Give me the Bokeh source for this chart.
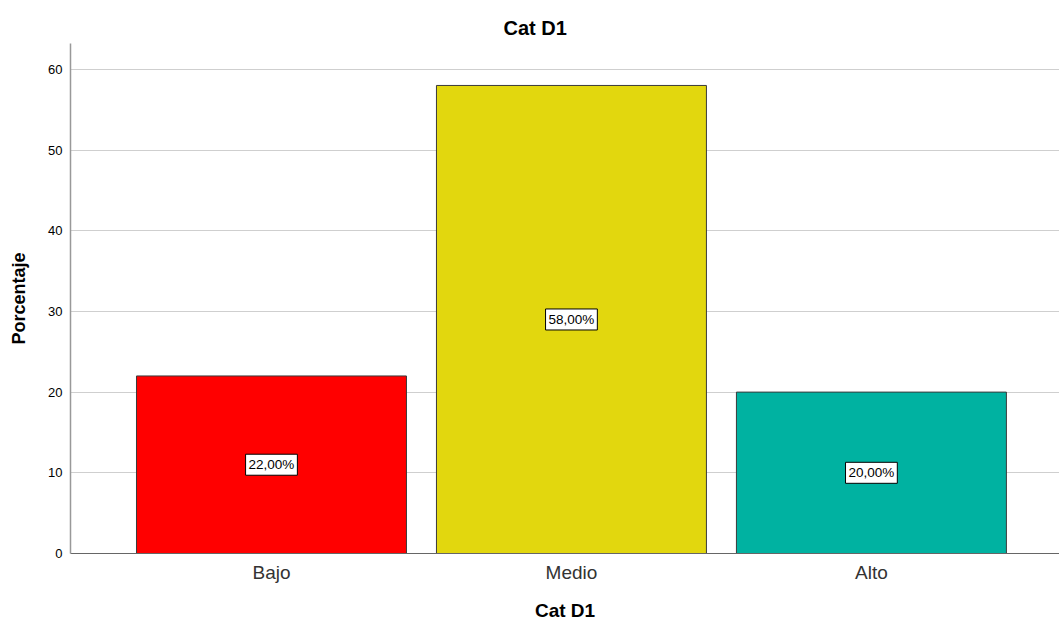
from bokeh.plotting import figure
from bokeh.models import ColumnDataSource, Range1d, FixedTicker
from bokeh.core.properties import value
from bokeh.embed import file_html
from bokeh.resources import INLINE

# Category data
categories = ["Bajo", "Medio", "Alto"]
percentages = [22.0, 58.0, 20.0]
bar_colors = ["#ff0000", "#e2d70e", "#00b2a1"]
y_ticks = [0, 10, 20, 30, 40, 50, 60]

positions = list(range(len(categories)))
labels = [f"{v:.2f}".replace(".", ",") + "%" for v in percentages]

source = ColumnDataSource(data=dict(
    x=positions,
    top=percentages,
    mid=[v / 2 for v in percentages],
    color=bar_colors,
    label=labels,
))

FONT = "Liberation Sans"

p = figure(
    width=1059, height=623,
    x_range=Range1d(-0.67, 2.627),
    y_range=Range1d(0, 63.2),
    output_backend="svg",
    toolbar_location=None,
    min_border_left=70, min_border_right=0,
    min_border_top=43, min_border_bottom=70,
    title="Cat D1",
)

p.vbar(x="x", top="top", width=0.9, bottom=0, source=source,
       fill_color="color", line_color="#3a3a3a", line_width=1)

# Boxed value labels in the middle of each bar
p.text(x="x", y="mid", text="label", source=source,
       text_align="center", text_baseline="middle",
       text_font=value(FONT), text_font_size="13.5px", text_color="#000000",
       background_fill_color="white", border_line_color="black",
       border_line_width=1, padding=3)

# Title
p.title.align = "left"
p.title.offset = 433
p.title.text_font = FONT
p.title.text_font_size = "20px"
p.title.text_font_style = "bold"
p.title.text_color = "#000000"
p.title.standoff = 9

# Axes
p.xaxis.ticker = FixedTicker(ticks=positions)
p.xaxis.major_label_overrides = {i: c for i, c in zip(positions, categories)}
p.xaxis.axis_label = "Cat D1"
p.xaxis.axis_label_text_font = FONT
p.xaxis.axis_label_text_font_size = "19px"
p.xaxis.axis_label_text_font_style = "bold"
p.xaxis.axis_label_text_color = "#000000"
p.xaxis.axis_label_standoff = 14
p.xaxis.major_label_text_font = FONT
p.xaxis.major_label_text_font_size = "19px"
p.xaxis.major_label_text_color = "#333333"
p.xaxis.major_label_standoff = 2
p.xaxis.major_tick_line_color = None
p.xaxis.minor_tick_line_color = None
p.xaxis.axis_line_color = "#666666"

p.yaxis.ticker = FixedTicker(ticks=y_ticks)
p.yaxis.axis_label = "Porcentaje"
p.yaxis.axis_label_text_font = FONT
p.yaxis.axis_label_text_font_size = "18px"
p.yaxis.axis_label_text_font_style = "bold"
p.yaxis.axis_label_text_color = "#000000"
p.yaxis.axis_label_standoff = 16
p.yaxis.major_label_text_font = FONT
p.yaxis.major_label_text_font_size = "13px"
p.yaxis.major_label_text_color = "#000000"
p.yaxis.major_label_standoff = 2
p.yaxis.major_tick_line_color = None
p.yaxis.minor_tick_line_color = None
p.yaxis.axis_line_color = "#999999"
p.yaxis.axis_line_width = 1.5

p.xgrid.grid_line_color = None
p.ygrid.grid_line_color = "#cfcfcf"
p.ygrid.grid_line_width = 1.2

p.outline_line_color = None
p.background_fill_color = "white"
p.border_fill_color = "white"

open("out.html", "w").write(file_html(p, INLINE))
